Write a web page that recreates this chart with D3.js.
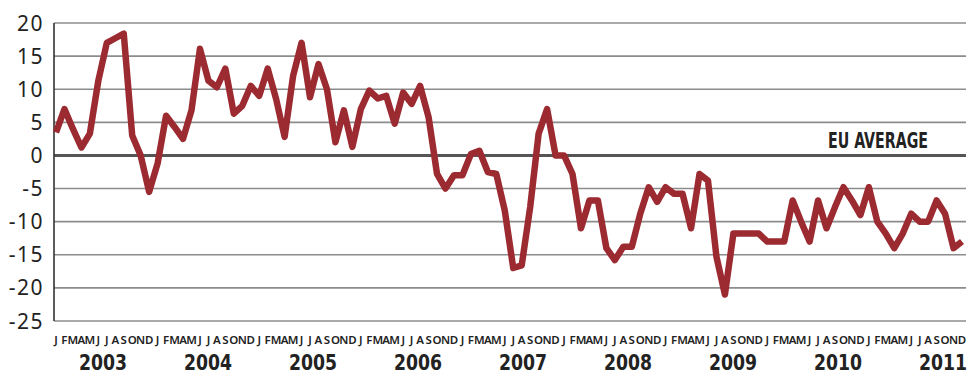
<html>
<head>
    <meta charset="utf-8">
    <title>EU average chart</title>
    <script src="https://cdn.jsdelivr.net/npm/d3@7"></script>
    <style>
        body { margin: 0; background: #fff; }
    </style>
</head>
<body>
    <svg id="chart"></svg>
    <script>
        // monthly values, Jan 2003 .. Dec 2011
        const values = [
            3.5, 7, 4, 1.2, 3.3, 11.3, 17, 17.7, 18.4, 3, 0, -5.5,
            -1.2, 6, 4.3, 2.5, 6.8, 16.1, 11.3, 10.3, 13.1, 6.3, 7.5, 10.5,
            9, 13.1, 8.5, 2.8, 12, 17, 8.8, 13.8, 10, 2, 6.8, 1.3,
            7, 9.8, 8.6, 9, 4.8, 9.5, 7.8, 10.5, 5.8, -2.8, -5, -3,
            -3, 0.2, 0.7, -2.5, -2.8, -8.3, -17, -16.6, -7.8, 3.3, 7, 0,
            0, -2.8, -11, -6.8, -6.8, -14, -15.8, -13.8, -13.8, -8.8, -4.8, -7,
            -4.8, -5.8, -5.8, -11, -2.8, -3.8, -15.3, -21, -11.8, -11.8, -11.8, -11.8,
            -13, -13, -13, -6.8, -10, -13, -6.8, -11, -7.8, -4.8, -6.8, -9,
            -4.8, -10, -11.8, -14, -11.8, -8.8, -10, -10, -6.8, -8.8, -14, -13
        ];
        const monthLetters = ['J','F','M','A','M','J','J','A','S','O','N','D'];
        const years = ['2003','2004','2005','2006','2007','2008','2009','2010','2011'];
        const yTicks = [20, 15, 10, 5, 0, -5, -10, -15, -20, -25];
        const refLabel = 'EU AVERAGE';

        const width = 974, height = 376;
        const condensed = 'DejaVu Sans Condensed, Liberation Sans Narrow, sans-serif';
        const svg = d3.select('#chart')
            .attr('width', width)
            .attr('height', height);

        const x = d3.scaleLinear()
            .domain([0, values.length - 1])
            .range([56, 962]);
        const y = d3.scaleLinear()
            .domain([-25, 20])
            .range([321, 23]);
        const yearX = d3.scalePoint()
            .domain(years)
            .range([103, 943]);

        // gridlines
        svg.append('g')
            .selectAll('line')
            .data(yTicks)
            .join('line')
            .attr('x1', 54)
            .attr('x2', 966)
            .attr('y1', d => y(d))
            .attr('y2', d => y(d))
            .attr('stroke', d => d === 0 ? '#555' : '#8c8c8c')
            .attr('stroke-width', d => d === 0 ? 3 : 1.6);

        // left axis line
        svg.append('line')
            .attr('x1', 54).attr('x2', 54)
            .attr('y1', y(20)).attr('y2', y(-25))
            .attr('stroke', '#333')
            .attr('stroke-width', 1.6);

        // y tick labels
        svg.append('g')
            .selectAll('text')
            .data(yTicks)
            .join('text')
            .attr('x', 44)
            .attr('y', d => y(d))
            .attr('dy', '0.36em')
            .attr('text-anchor', 'end')
            .attr('font-family', 'Noto Sans, sans-serif')
            .attr('font-size', 21)
            .attr('letter-spacing', 1.5)
            .attr('fill', '#222')
            .text(d => d);

        // month letters
        svg.append('g')
            .selectAll('text')
            .data(values)
            .join('text')
            .attr('x', (d, i) => x(i))
            .attr('y', 344)
            .attr('text-anchor', 'middle')
            .attr('font-family', 'Noto Sans, sans-serif')
            .attr('font-weight', 600)
            .attr('font-size', 11.5)
            .attr('fill', '#222')
            .text((d, i) => monthLetters[i % 12]);

        // year labels
        svg.append('g')
            .selectAll('text')
            .data(years)
            .join('text')
            .attr('x', d => yearX(d))
            .attr('y', 370)
            .attr('text-anchor', 'middle')
            .attr('font-family', condensed)
            .attr('font-weight', 'bold')
            .attr('font-size', 22)
            .attr('textLength', 48)
            .attr('lengthAdjust', 'spacingAndGlyphs')
            .attr('fill', '#222')
            .text(d => d);

        // EU average label
        svg.append('text')
            .attr('x', 928)
            .attr('y', y(0) - 7)
            .attr('text-anchor', 'end')
            .attr('font-family', condensed)
            .attr('font-weight', 'bold')
            .attr('font-size', 21)
            .attr('textLength', 100)
            .attr('lengthAdjust', 'spacingAndGlyphs')
            .attr('fill', '#222')
            .text(refLabel);

        // the series line
        const line = d3.line()
            .x((d, i) => x(i))
            .y(d => y(d));
        svg.append('path')
            .datum(values)
            .attr('d', line)
            .attr('fill', 'none')
            .attr('stroke', '#9c2a31')
            .attr('stroke-width', 6.5)
            .attr('stroke-linejoin', 'round');
    </script>
</body>
</html>
